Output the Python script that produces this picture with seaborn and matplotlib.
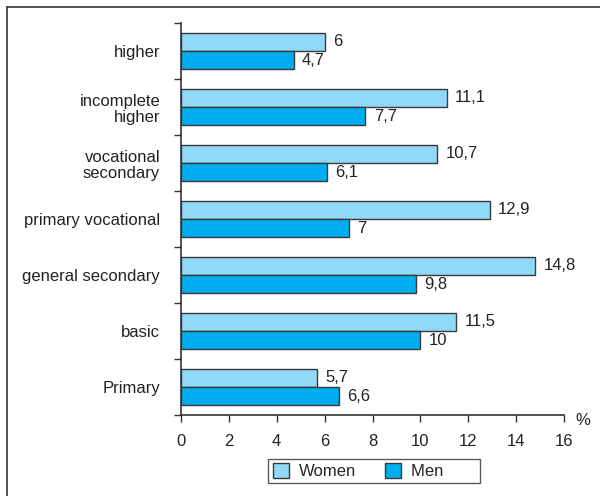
import matplotlib
matplotlib.use("Agg")
import matplotlib.pyplot as plt
from matplotlib.lines import Line2D
import seaborn as sns
import pandas as pd
import numpy as np

categories = ["higher", "incomplete\nhigher", "vocational\nsecondary",
              "primary vocational", "general secondary", "basic", "Primary"]
women = [6.0, 11.1, 10.7, 12.9, 14.8, 11.5, 5.7]
men = [4.7, 7.7, 6.1, 7.0, 9.8, 10.0, 6.6]
series = ["Women", "Men"]
colors = ["#8fd9f6", "#00adee"]
xticks = [0, 2, 4, 6, 8, 10, 12, 14, 16]

df = pd.DataFrame({
    "category": categories * 2,
    "value": women + men,
    "sex": ["Women"] * len(categories) + ["Men"] * len(categories),
})

sns.set_style("white")
plt.rcParams["font.family"] = ["Liberation Sans", "DejaVu Sans"]
FS = 12

fig = plt.figure(figsize=(6.0, 4.96), dpi=100)
ax = fig.add_axes([181 / 600, 1 - 415 / 496, (564 - 181) / 600, (415 - 23) / 496])

sns.barplot(data=df, x="value", y="category", hue="sex", order=categories,
            hue_order=series, palette=colors, saturation=1, width=0.66, orient="h",
            edgecolor="#3a3a3a", linewidth=1.0, ax=ax, legend=True)

ax.set_xlim(0, 16)
ax.set_ylim(6.5, -0.5)
ax.set_xticks(xticks)
ax.set_xticklabels([str(t) for t in xticks], fontsize=FS, color="#222222")
ax.set_yticks(range(len(categories)))
ax.set_yticklabels(categories, fontsize=FS, color="#222222", linespacing=1.15)
ax.set_yticks(np.arange(-0.5, len(categories), 1.0), minor=True)
ax.tick_params(axis="y", which="major", left=True, length=0, pad=15)
ax.tick_params(axis="y", which="minor", left=True, length=5, width=1,
               color="#333333", direction="out")
ax.tick_params(axis="x", which="major", bottom=True, length=5, width=1,
               color="#333333", direction="out", pad=9)
ax.set_xlabel("")
ax.set_ylabel("")
for s in ["top", "right"]:
    ax.spines[s].set_visible(False)
for s in ["left", "bottom"]:
    ax.spines[s].set_color("#333333")
    ax.spines[s].set_linewidth(1.2)

# value labels with comma decimal separator
def fmt(v):
    s = ("%.1f" % v).rstrip("0").rstrip(".")
    return s.replace(".", ",")

for container, vals in zip(ax.containers, [women, men]):
    ax.bar_label(container, labels=[fmt(v) for v in vals], padding=6,
                 fontsize=FS, color="#222222")

ax.text(1.05, -0.015, "%", transform=ax.transAxes, fontsize=FS,
        color="#222222", ha="center", va="center")

handles, labels = ax.get_legend_handles_labels()
labels = [labels[0], labels[1] + " " * 7]
leg = ax.legend(handles, labels, loc="upper center", bbox_to_anchor=(0.505, -0.111),
                ncol=2, frameon=True, fancybox=False, fontsize=FS, handlelength=1.0,
                handleheight=1.0, columnspacing=1.7, handletextpad=0.6,
                borderpad=0.25, borderaxespad=0, edgecolor="#333333")
leg.get_frame().set_linewidth(1.0)

# outer frame (top and left edges)
fig.add_artist(Line2D([7 / 600, 1.0], [1 - 7 / 496, 1 - 7 / 496],
                      transform=fig.transFigure, color="#333333", lw=1.2))
fig.add_artist(Line2D([7 / 600, 7 / 600], [0, 1 - 7 / 496],
                      transform=fig.transFigure, color="#333333", lw=1.2))

fig.savefig("out.png", dpi=100)
